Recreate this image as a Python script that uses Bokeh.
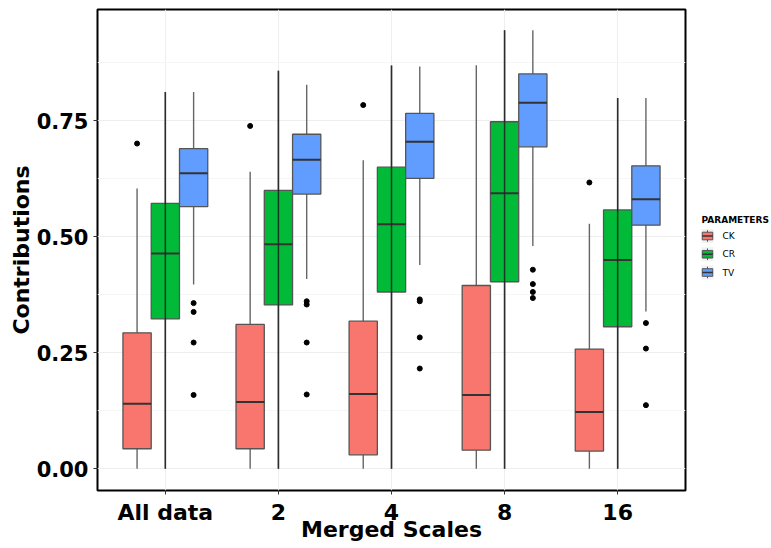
from bokeh.plotting import figure
from bokeh.models import Range1d, FixedTicker, NumeralTickFormatter
from bokeh.layouts import row
from bokeh.embed import file_html
from bokeh.resources import INLINE
from bokeh.core.properties import value

# ---- data -------------------------------------------------------------
scales = ["All data", "2", "4", "8", "16"]
params = ["CK", "CR", "TV"]
colors = ["#F8766D", "#00BA38", "#619CFF"]

ck_low = [0.0, 0.0, 0.0, 0.0, 0.0]
ck_q1 = [0.043, 0.043, 0.030, 0.040, 0.038]
ck_med = [0.140, 0.144, 0.161, 0.159, 0.122]
ck_q3 = [0.293, 0.311, 0.318, 0.395, 0.258]
ck_high = [0.604, 0.640, 0.665, 0.870, 0.528]
ck_out = [[0.701], [0.739], [0.784], [], [0.617]]

cr_low = [0.0, 0.0, 0.0, 0.0, 0.0]
cr_q1 = [0.323, 0.353, 0.381, 0.403, 0.306]
cr_med = [0.464, 0.484, 0.527, 0.594, 0.450]
cr_q3 = [0.572, 0.600, 0.650, 0.748, 0.558]
cr_high = [0.812, 0.858, 0.869, 0.945, 0.799]
cr_out = [[], [], [], [], []]

tv_low = [0.397, 0.409, 0.439, 0.480, 0.339]
tv_q1 = [0.565, 0.592, 0.626, 0.694, 0.525]
tv_med = [0.637, 0.666, 0.705, 0.789, 0.581]
tv_q3 = [0.690, 0.721, 0.766, 0.851, 0.653]
tv_high = [0.812, 0.828, 0.867, 0.945, 0.799]
tv_out = [[0.357, 0.338, 0.272, 0.159],
          [0.361, 0.354, 0.272, 0.160],
          [0.365, 0.361, 0.283, 0.216],
          [0.429, 0.398, 0.381, 0.368],
          [0.314, 0.259, 0.137]]

stats = {
    "CK": (ck_low, ck_q1, ck_med, ck_q3, ck_high, ck_out),
    "CR": (cr_low, cr_q1, cr_med, cr_q3, cr_high, cr_out),
    "TV": (tv_low, tv_q1, tv_med, tv_q3, tv_high, tv_out),
}

FONT = "DejaVu Sans"
BOX_W = 0.25
offsets = {"CK": -BOX_W, "CR": 0.0, "TV": BOX_W}
TOP, BOTTOM = 9, 58

# ---- main panel -------------------------------------------------------
p = figure(width=697, height=548,
           x_range=Range1d(0.4, len(scales) + 0.6),
           y_range=Range1d(-0.047, 0.990),
           output_backend="svg", toolbar_location=None,
           min_border_left=97, min_border_right=12,
           min_border_top=TOP, min_border_bottom=BOTTOM)
p.background_fill_color = "white"
p.border_fill_color = "white"
p.outline_line_color = "black"
p.outline_line_width = 2

for name, color in zip(params, colors):
    low, q1, med, q3, high, out = stats[name]
    xs = [i + 1 + offsets[name] for i in range(len(scales))]
    # whiskers
    p.segment(x0=xs, y0=low, x1=xs, y1=high, line_color="#666666", line_width=1.4)
    # boxes
    p.vbar(x=xs, width=BOX_W, bottom=q1, top=q3, fill_color=color,
           line_color="#555555", line_width=1.3)
    # medians
    p.segment(x0=[x - BOX_W / 2 for x in xs], y0=med,
              x1=[x + BOX_W / 2 for x in xs], y1=med,
              line_color="#333333", line_width=2)
    if name == "CR":
        # the CR whisker line stays visible through its box
        p.segment(x0=xs, y0=low, x1=xs, y1=high, line_color="#222222",
                  line_width=1.5, line_alpha=0.85)
    ox, oy = [], []
    for x, vals in zip(xs, out):
        ox += [x] * len(vals)
        oy += vals
    if ox:
        p.scatter(ox, oy, size=5, color="black")

# axes
p.xaxis.ticker = FixedTicker(ticks=list(range(1, len(scales) + 1)))
p.xaxis.major_label_overrides = {i + 1: s for i, s in enumerate(scales)}
p.yaxis.ticker = FixedTicker(ticks=[0, 0.25, 0.5, 0.75],
                             minor_ticks=[0.125, 0.375, 0.625, 0.875])
p.yaxis.formatter = NumeralTickFormatter(format="0.00")

p.xaxis.axis_label = "Merged Scales"
p.yaxis.axis_label = "Contributions"
p.axis.axis_line_color = None
p.axis.major_tick_line_color = "#333333"
p.axis.major_tick_out = 4
p.axis.major_tick_in = 0
p.axis.minor_tick_line_color = None
p.axis.major_label_text_font = FONT
p.axis.major_label_text_font_style = "bold"
p.axis.major_label_text_color = "black"
p.axis.major_label_standoff = 5
p.xaxis.major_label_text_font_size = "22px"
p.yaxis.major_label_text_font_size = "21px"
p.axis.axis_label_text_font = FONT
p.axis.axis_label_text_font_style = "bold"
p.axis.axis_label_text_font_size = "22px"
p.axis.axis_label_text_color = "black"
p.yaxis.axis_label_standoff = 0
p.xaxis.axis_label_standoff = -11

p.xgrid.grid_line_color = "#eeeeee"
p.ygrid.grid_line_color = "#eeeeee"
p.ygrid.minor_grid_line_color = "#f6f6f6"

# ---- legend panel (y in canvas pixels, frame shares the main panel's rows) ----
lg = figure(width=74, height=548, x_range=Range1d(0, 74),
            y_range=Range1d(548 - BOTTOM, TOP),
            output_backend="svg", toolbar_location=None,
            x_axis_location=None, y_axis_location=None,
            min_border_left=0, min_border_right=0,
            min_border_top=TOP, min_border_bottom=BOTTOM)
lg.outline_line_color = None
lg.grid.visible = False
lg.background_fill_color = "white"
lg.border_fill_color = "white"

key_x = 10
key_y = [235.5 + 18.25 * i for i in range(len(params))]
lg.text(x=[4], y=[219], text=["PARAMETERS"], text_font=value(FONT),
        text_font_size="9px", text_font_style="bold", text_color="black",
        text_baseline="alphabetic")
lg.rect(x=[key_x] * 3, y=key_y, width=13, height=15, fill_color="#f2f2f2",
        line_color="white")
lg.segment(x0=[key_x] * 3, y0=[y - 5.8 for y in key_y],
           x1=[key_x] * 3, y1=[y + 5.8 for y in key_y],
           line_color="#555555", line_width=1)
lg.rect(x=[key_x] * 3, y=key_y, width=10.5, height=7.6, fill_color=colors,
        line_color="#555555", line_width=1)
lg.segment(x0=[key_x - 5.25] * 3, y0=key_y, x1=[key_x + 5.25] * 3, y1=key_y,
           line_color="#333333", line_width=1.3)
lg.text(x=[25] * 3, y=key_y, text=params, text_font=value(FONT),
        text_font_size="9px", text_color="black", text_baseline="middle")

layout = row(p, lg)
open("out.html", "w").write(file_html(layout, INLINE))
